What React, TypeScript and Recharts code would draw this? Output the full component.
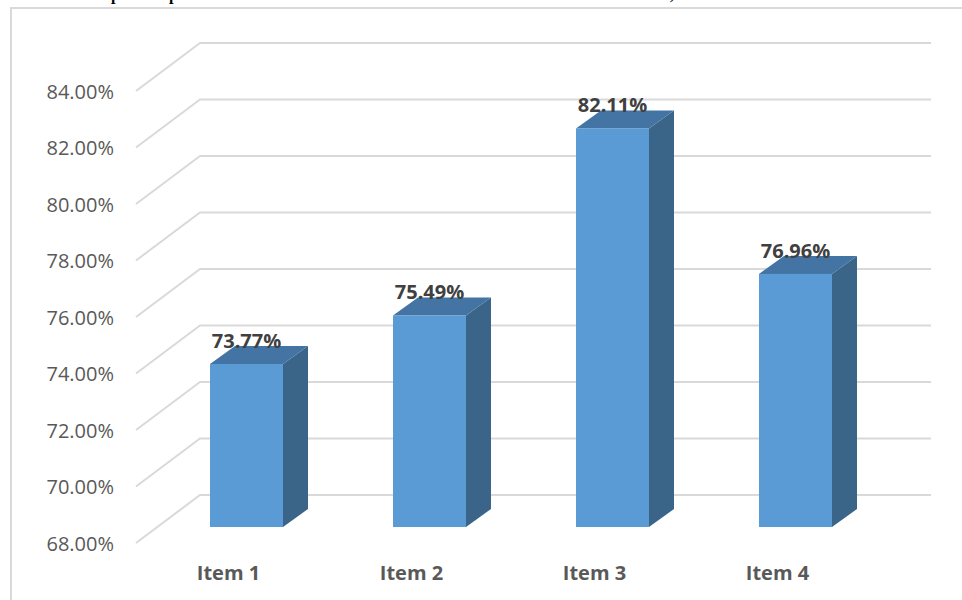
import React from 'react';
import { BarChart, Bar, XAxis, YAxis, CartesianGrid, LabelList } from 'recharts';

const categories = ['Item 1', 'Item 2', 'Item 3', 'Item 4'];
const values = [73.77, 75.49, 82.11, 76.96];
const yTicks = [68, 70, 72, 74, 76, 78, 80, 82, 84];
const Y_MIN = 68;
const Y_MAX = 84;

const data = categories.map((name, i) => ({ name, value: values[i] }));

const FONT = '"Open Sans", "Noto Sans", sans-serif';
const DEPTH_X = 25;
const DEPTH_Y = 18;

const Bar3D = (props: any) => {
  const { x, y, width, height } = props;
  if (height == null || width == null) return null;
  const bottom = y + height;
  const top = `${x},${y} ${x + width},${y} ${x + width + DEPTH_X},${y - DEPTH_Y} ${x + DEPTH_X},${y - DEPTH_Y}`;
  const side = `${x + width},${y} ${x + width + DEPTH_X},${y - DEPTH_Y} ${x + width + DEPTH_X},${bottom - DEPTH_Y} ${x + width},${bottom}`;
  return (
    <g>
      <polygon points={side} fill="#3A6588" />
      <polygon points={top} fill="#4374A3" />
      <rect x={x} y={y} width={width} height={height} fill="#5B9BD5" />
    </g>
  );
};

const gridLine = (p: any) => {
  const { x1, x2, y1, y, height, key } = p;
  const v = Math.round((Y_MIN + ((y + height - y1) / height) * (Y_MAX - Y_MIN)) / 2) * 2;
  const yf = y1 + 16;
  const yb = y1 - 32;
  const xf = x1 - 19;
  const xb = x1 + 45;
  const xe = x2 + 44;
  return (
    <g key={key}>
      <polyline points={`${xf},${yf} ${xb},${yb} ${xe},${yb}`} fill="none" stroke="#D9D9D9" strokeWidth={2} />
      <text x={xf - 22} y={yf} textAnchor="end" dominantBaseline="central" fontFamily={FONT} fontSize={20} fill="#595959">
        {v.toFixed(2) + '%'}
      </text>
    </g>
  );
};

const XTick = (props: any) => {
  const { x, y, payload } = props;
  return (
    <text x={x - 18} y={y + 53} textAnchor="middle" fontFamily={FONT} fontSize={20} fontWeight={700} fill="#595959">
      {payload.value}
    </text>
  );
};

const ValueLabel = (props: any) => {
  const { x, y, width, value } = props;
  return (
    <text x={x + width / 2} y={y - 16} textAnchor="middle" fontFamily={FONT} fontSize={20} fontWeight={700} fill="#404040">
      {Number(value).toFixed(2) + '%'}
    </text>
  );
};

export default function App() {
  return (
    <div style={{ position: 'absolute', left: 0, top: 0, width: 962, height: 600, overflow: 'hidden', background: '#fff' }}>
      <div style={{ position: 'absolute', left: 0, top: -13, fontFamily: '"Liberation Serif", serif', fontWeight: 700, fontSize: 16, lineHeight: '16px', whiteSpace: 'nowrap' }}>
        <span style={{ position: 'absolute', left: 111 }}>p</span>
        <span style={{ position: 'absolute', left: 169 }}>p</span>
        <span style={{ position: 'absolute', left: 670 }}>,</span>
      </div>
      <div style={{ position: 'absolute', left: 10, top: 7, width: 952, height: 593, borderTop: '2px solid #D9D9D9', borderLeft: '2px solid #D9D9D9', boxSizing: 'border-box' }} />
      <div style={{ position: 'absolute', left: 0, top: 0 }}>
        <BarChart width={962} height={600} data={data} margin={{ top: 75, right: 75, bottom: 0, left: 155 }}>
          <CartesianGrid vertical={false} horizontal={gridLine} />
          <YAxis hide domain={[Y_MIN, Y_MAX]} ticks={yTicks} type="number" allowDataOverflow />
          <XAxis dataKey="name" height={73} axisLine={false} tickLine={false} tickSize={0} tickMargin={0} tick={<XTick />} interval={0} />
          <Bar dataKey="value" barSize={73} shape={<Bar3D />} isAnimationActive={false}>
            <LabelList dataKey="value" content={<ValueLabel />} />
          </Bar>
        </BarChart>
      </div>
    </div>
  );
}
